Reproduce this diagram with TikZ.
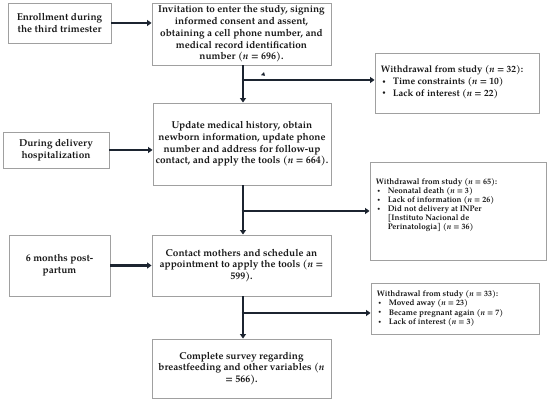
\documentclass[tikz,border=0pt]{standalone}
\usepackage{fontspec}
\setmainfont{TeX Gyre Pagella}
\usetikzlibrary{arrows.meta}
\definecolor{boxgray}{HTML}{A0A0A0}
\definecolor{linecol}{HTML}{1C2430}
\definecolor{txtcol}{HTML}{1A1A1A}
\newcommand{\itm}[1]{\makebox[12pt][l]{\hspace{1.5pt}\raisebox{0.3ex}{\scalebox{0.6}{\textbullet}}}#1}
\newcommand{\cnt}[1]{\hspace*{12pt}#1}
\begin{document}
\begin{tikzpicture}[x=1pt,y=1pt,
  box/.style={draw=boxgray, line width=0.9pt, align=center, text=txtcol,
    font=\bfseries\fontsize{10}{11.7}\selectfont, inner sep=1pt},
  wframe/.style={draw=boxgray, line width=0.9pt, inner sep=0pt},
  wtext/.style={align=left, text=txtcol, inner sep=0pt,
    font=\bfseries\fontsize{8.1}{9.1}\selectfont},
  wtextbig/.style={wtext, font=\bfseries\fontsize{9.5}{11.8}\selectfont},
  conn/.style={draw=linecol, line width=2.6pt,
    -{Triangle[length=4.5pt,width=6pt]}}]
\useasboundingbox (0,0) rectangle (550,403);

\node[box, minimum width=103pt, minimum height=40pt] (A) at (59.5,380)
  {Enrollment during\\the third trimester};
\node[box, minimum width=179pt, minimum height=62pt] (B) at (241.5,369)
  {Invitation to enter the study, signing\\informed consent and assent,\\obtaining a cell phone number, and\\medical record identification\\number (\textit{n} = 696).};
\node[wframe, minimum width=164pt, minimum height=60pt] (W1) at (457,320) {};
\node[wtextbig, anchor=west] (T1) at ([xshift=6pt,yshift=1pt]W1.west)
  {\bfseries Withdrawal from study (\textit{n} = 32):\\\itm{Time constraints (\textit{n} = 10)}\\\itm{Lack of interest (\textit{n} = 22)}};

\node[box, minimum width=106pt, minimum height=36pt] (L2) at (56,253)
  {During delivery\\hospitalization};
\node[box, minimum width=178pt, minimum height=82pt] (C) at (242,259)
  {Update medical history, obtain\\newborn information, update phone\\number and address for follow-up\\contact, and apply the tools (\textit{n} = 664).};
\node[wframe, minimum width=176pt, minimum height=98pt] (W2) at (458,192) {};
\node[wtext, anchor=west] (T2) at ([xshift=6pt,yshift=6pt]W2.west)
  {\bfseries Withdrawal from study (\textit{n} = 65):\\\itm{Neonatal death (\textit{n} = 3)}\\\itm{Lack of information (\textit{n} = 26)}\\\itm{Did not delivery at INPer}\\\cnt{[Instituto Nacional de}\\\cnt{Perinatologia] (\textit{n} = 36)}};

\node[box, minimum width=101pt, minimum height=61pt] (L3) at (59.5,137.5)
  {6 months post-\\partum};
\node[box, minimum width=179pt, minimum height=61pt] (D) at (241.5,137.5)
  {Contact mothers and schedule an\\appointment to apply the tools (\textit{n} =\\599).};
\node[wframe, minimum width=168pt, minimum height=51pt] (W3) at (455,94.5) {};
\node[wtext, anchor=west] (T3) at ([xshift=6pt]W3.west)
  {\bfseries Withdrawal from study (\textit{n} = 33):\\\itm{Moved away (\textit{n} = 23)}\\\itm{Became pregnant again (\textit{n} = 7)}\\\itm{Lack of interest (\textit{n} = 3)}};

\node[box, minimum width=179pt, minimum height=59pt] (E) at (241.5,34.5)
  {Complete survey regarding\\breastfeeding and other variables (\textit{n}\\= 566).};

% side arrows
\draw[conn] (A.east) -- (A.east -| B.west);
\draw[conn] (L2.east) -- (L2.east -| C.west);
\draw[conn] (L3.east) -- (L3.east -| D.west);

% trunk
\coordinate (b1) at (243,323);
\coordinate (b2) at (243,192);
\coordinate (b3) at (243,90);
\draw[conn] (B.south -| b1) -- (C.north -| b1);
\draw[conn] (C.south -| b2) -- (D.north -| b2);
\draw[conn] (D.south -| b3) -- (E.north -| b3);

% branches
\draw[conn] ([xshift=-1.3pt]b1) -- (b1 -| W1.west);
\draw[conn] ([xshift=-1.3pt]b2) -- (b2 -| W2.west);
\draw[conn] ([xshift=-1.3pt]b3) -- (b3 -| W3.west);

% small stray arrowhead mark
\coordinate (m) at (263,329);
\fill[linecol] ([shift={(-2,-1.2)}]m) -- ([shift={(2,-1.8)}]m) -- ([shift={(1,1.8)}]m) -- cycle;
\end{tikzpicture}
\end{document}
